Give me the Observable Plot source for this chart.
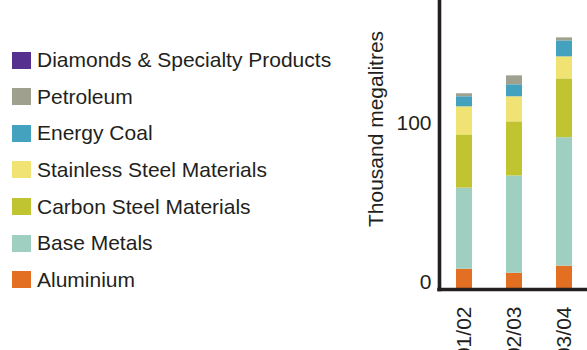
<!DOCTYPE html>
<html>
<head>
<meta charset="utf-8">
<script src="https://cdn.jsdelivr.net/npm/d3@7"></script>
<script src="https://cdn.jsdelivr.net/npm/@observablehq/plot@0.6"></script>
<style>
  html, body { margin: 0; padding: 0; background: #fff; }
  #wrap { display: flex; width: 587px; height: 350px; overflow: hidden; font-family: "Liberation Sans", Arial, sans-serif; color: #231f20; }
  #legend { width: 360px; flex: none; padding-top: 41.7px; box-sizing: border-box; }
  .row { height: 36.67px; display: flex; align-items: center; font-size: 21px; white-space: nowrap; }
  .sw { width: 19px; height: 17px; margin-left: 12px; margin-right: 6px; flex: none; }
  #chart { width: 227px; flex: none; }
</style>
</head>
<body>
<div id="wrap">
  <div id="legend"></div>
  <div id="chart"></div>
</div>
<script>
// Water use by customer sector group, thousand megalitres
const periods = ["01/02", "02/03", "03/04"];
const segments = [
  "Aluminium",
  "Base Metals",
  "Carbon Steel Materials",
  "Stainless Steel Materials",
  "Energy Coal",
  "Petroleum",
  "Diamonds & Specialty Products"
];
const colors = ["#e37022", "#9fcfc0", "#c0c431", "#f0e374", "#45a2be", "#a0a08f", "#55308f"];

const aluminium      = [12.7, 10.2, 14.6];
const baseMetals     = [50.8, 60.9, 80.5];
const carbonSteel    = [33.3, 33.9, 36.8];
const stainlessSteel = [17.6, 15.7, 13.8];
const energyCoal     = [6.3, 7.5, 10.0];
const petroleum      = [1.9, 5.6, 1.9];
const diamonds       = [0, 0, 0];

const yTicks = [0, 100];
const yTitle = "Thousand megalitres";

const series = [aluminium, baseMetals, carbonSteel, stainlessSteel, energyCoal, petroleum, diamonds];
const rows = segments.flatMap((segment, s) =>
  periods.map((period, i) => ({period, segment, value: series[s][i]}))
);

// Legend, top entry is the top of the stack
const legend = document.getElementById("legend");
segments.slice().reverse().forEach((name) => {
  const row = document.createElement("div");
  row.className = "row";
  const sw = document.createElement("div");
  sw.className = "sw";
  sw.style.background = colors[segments.indexOf(name)];
  const label = document.createElement("span");
  label.textContent = name;
  row.append(sw, label);
  legend.append(row);
});

const ink = "#231f20";
const chart = Plot.plot({
  width: 227,
  height: 350,
  marginLeft: 79,
  marginRight: 0,
  marginTop: 0,
  marginBottom: 61,
  style: {fontFamily: "Liberation Sans, Arial, sans-serif", fontSize: "21px", color: ink, background: "#fff"},
  x: {domain: periods, range: [79, 229], paddingInner: 0.68, paddingOuter: 0.34, label: null},
  y: {domain: [0, 181], label: null},
  color: {domain: segments, range: colors},
  marks: [
    Plot.barY(rows, {x: "period", y: "value", fill: "segment", order: segments}),
    Plot.ruleY([0], {stroke: ink, strokeWidth: 3.6, strokeLinecap: "square"}),
    Plot.frame({anchor: "left", stroke: ink, strokeWidth: 3.6}),
    Plot.axisY({ticks: yTicks, tickSize: 0, tickPadding: 8, dy: -7, label: null}),
    Plot.axisX({tickSize: 0, tickRotate: -90, tickPadding: 13, dy: 4, label: null}),
    Plot.text([yTitle], {text: (d) => d, frameAnchor: "left", textAnchor: "middle", rotate: -90, dx: -63, dy: -16, fill: ink})
  ]
});
document.getElementById("chart").append(chart);
</script>
</body>
</html>
